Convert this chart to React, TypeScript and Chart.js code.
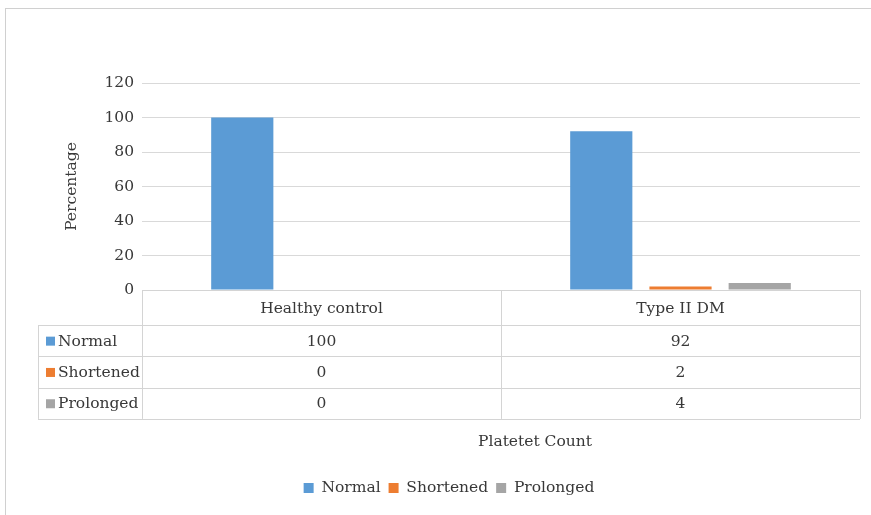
import React, { useEffect, useRef } from 'react';
import { Chart, registerables } from 'chart.js';

Chart.register(...registerables);

const categories = ['Healthy control', 'Type II DM'];
const seriesNames = ['Normal', 'Shortened', 'Prolonged'];
const normalValues = [100, 92];
const shortenedValues = [0, 2];
const prolongedValues = [0, 4];
const seriesValues = [normalValues, shortenedValues, prolongedValues];
const seriesColors = ['#5B9BD5', '#ED7D31', '#A5A5A5'];
const yMin = 0;
const yMax = 120;
const yStep = 20;
const yTitle = 'Percentage';
const xTitle = 'Platetet Count';

const FONT_FAMILY = '"DejaVu Serif", serif';
const FONT_SIZE = 15.5;
const TEXT_COLOR = '#383838';
const GRID_COLOR = '#d9d9d9';
const TABLE_COLOR = '#d4d4d4';

const TABLE_LEFT = 38;
const HEADER_H = 35;
const ROW_H = 31.3;

const crisp = (v: number) => Math.round(v) + 0.5;

const tablePlugin = {
  id: 'dataTable',
  beforeDraw(chart: any) {
    const ctx = chart.ctx;
    ctx.save();
    ctx.fillStyle = '#ffffff';
    ctx.fillRect(0, 0, chart.width, chart.height);
    ctx.strokeStyle = '#d0d0d0';
    ctx.lineWidth = 1;
    ctx.beginPath();
    ctx.moveTo(5, 8.5);
    ctx.lineTo(chart.width, 8.5);
    ctx.moveTo(5.5, 8);
    ctx.lineTo(5.5, chart.height);
    ctx.stroke();
    ctx.restore();
  },
  afterDraw(chart: any) {
    const ctx = chart.ctx;
    const x = chart.scales.x;
    const area = chart.chartArea;
    const n = categories.length;
    const colW = (x.right - x.left) / n;
    const bounds: number[] = [];
    for (let i = 0; i < n; i++) bounds.push(x.getPixelForValue(i) - colW / 2);
    bounds.push(x.getPixelForValue(n - 1) + colW / 2);
    const top = area.bottom;
    const headerBottom = top + HEADER_H;
    const rows = seriesNames.length;
    const bottom = headerBottom + rows * ROW_H;

    ctx.save();
    ctx.strokeStyle = TABLE_COLOR;
    ctx.lineWidth = 1;
    ctx.beginPath();
    ctx.moveTo(bounds[0], crisp(top));
    ctx.lineTo(bounds[n], crisp(top));
    for (let r = 0; r <= rows; r++) {
      const y = crisp(headerBottom + r * ROW_H);
      ctx.moveTo(TABLE_LEFT, y);
      ctx.lineTo(bounds[n], y);
    }
    ctx.moveTo(crisp(TABLE_LEFT), headerBottom);
    ctx.lineTo(crisp(TABLE_LEFT), bottom);
    for (let j = 0; j <= n; j++) {
      ctx.moveTo(crisp(bounds[j]), top);
      ctx.lineTo(crisp(bounds[j]), bottom);
    }
    ctx.stroke();

    ctx.font = `${FONT_SIZE}px ${FONT_FAMILY}`;
    ctx.fillStyle = TEXT_COLOR;
    ctx.textBaseline = 'middle';
    const datasets = chart.data.datasets;
    for (let r = 0; r < rows; r++) {
      const cy = headerBottom + r * ROW_H + ROW_H / 2 + 1;
      const ds = datasets[r];
      ctx.fillStyle = ds.backgroundColor;
      ctx.fillRect(TABLE_LEFT + 8, cy - 5, 9, 9);
      ctx.fillStyle = TEXT_COLOR;
      ctx.textAlign = 'left';
      ctx.fillText(ds.label, TABLE_LEFT + 20, cy);
      ctx.textAlign = 'center';
      for (let j = 0; j < n; j++) {
        ctx.fillText(String(ds.data[j]), x.getPixelForValue(j), cy);
      }
    }

    ctx.textAlign = 'center';
    ctx.fillText(xTitle, (x.left + x.right) / 2 + 34, bottom + 23);
    ctx.restore();
  },
};

export default function App() {
  const canvasRef = useRef<HTMLCanvasElement | null>(null);

  useEffect(() => {
    const canvas = canvasRef.current;
    if (!canvas) return;
    const font = { family: FONT_FAMILY, size: FONT_SIZE };
    const chart = new Chart(canvas, {
      type: 'bar',
      data: {
        labels: categories,
        datasets: seriesNames.map((name, i) => ({
          label: name,
          data: seriesValues[i],
          backgroundColor: seriesColors[i],
          borderWidth: 0,
          categoryPercentage: 0.662,
          barPercentage: 0.785,
        })),
      },
      options: {
        responsive: false,
        devicePixelRatio: 1,
        animation: false,
        layout: { padding: { left: TABLE_LEFT, right: 11, top: 83, bottom: 9.25 } },
        plugins: {
          tooltip: { enabled: false },
          legend: {
            position: 'bottom',
            labels: {
              boxWidth: 10,
              boxHeight: 10,
              padding: 8,
              color: TEXT_COLOR,
              font,
            },
          },
        },
        scales: {
          x: {
            grid: { display: false },
            border: { display: false },
            ticks: { color: TEXT_COLOR, font, padding: 2, maxRotation: 0 },
            afterFit: (scale: any) => {
              scale.height = 182.25;
            },
          },
          y: {
            min: yMin,
            max: yMax,
            grid: { color: GRID_COLOR, drawTicks: false },
            border: { display: false },
            ticks: { stepSize: yStep, color: TEXT_COLOR, font, padding: 8 },
            title: {
              display: true,
              text: yTitle,
              color: TEXT_COLOR,
              font,
              padding: { top: 24.7, bottom: 0 },
            },
            afterFit: (scale: any) => {
              scale.width = 104;
            },
          },
        },
      },
      plugins: [tablePlugin],
    });
    return () => chart.destroy();
  }, []);

  return (
    <div style={{ position: 'absolute', left: 0, top: 0, width: 871, height: 515, background: '#fff' }}>
      <canvas ref={canvasRef} width={871} height={515} style={{ display: 'block' }} />
    </div>
  );
}
